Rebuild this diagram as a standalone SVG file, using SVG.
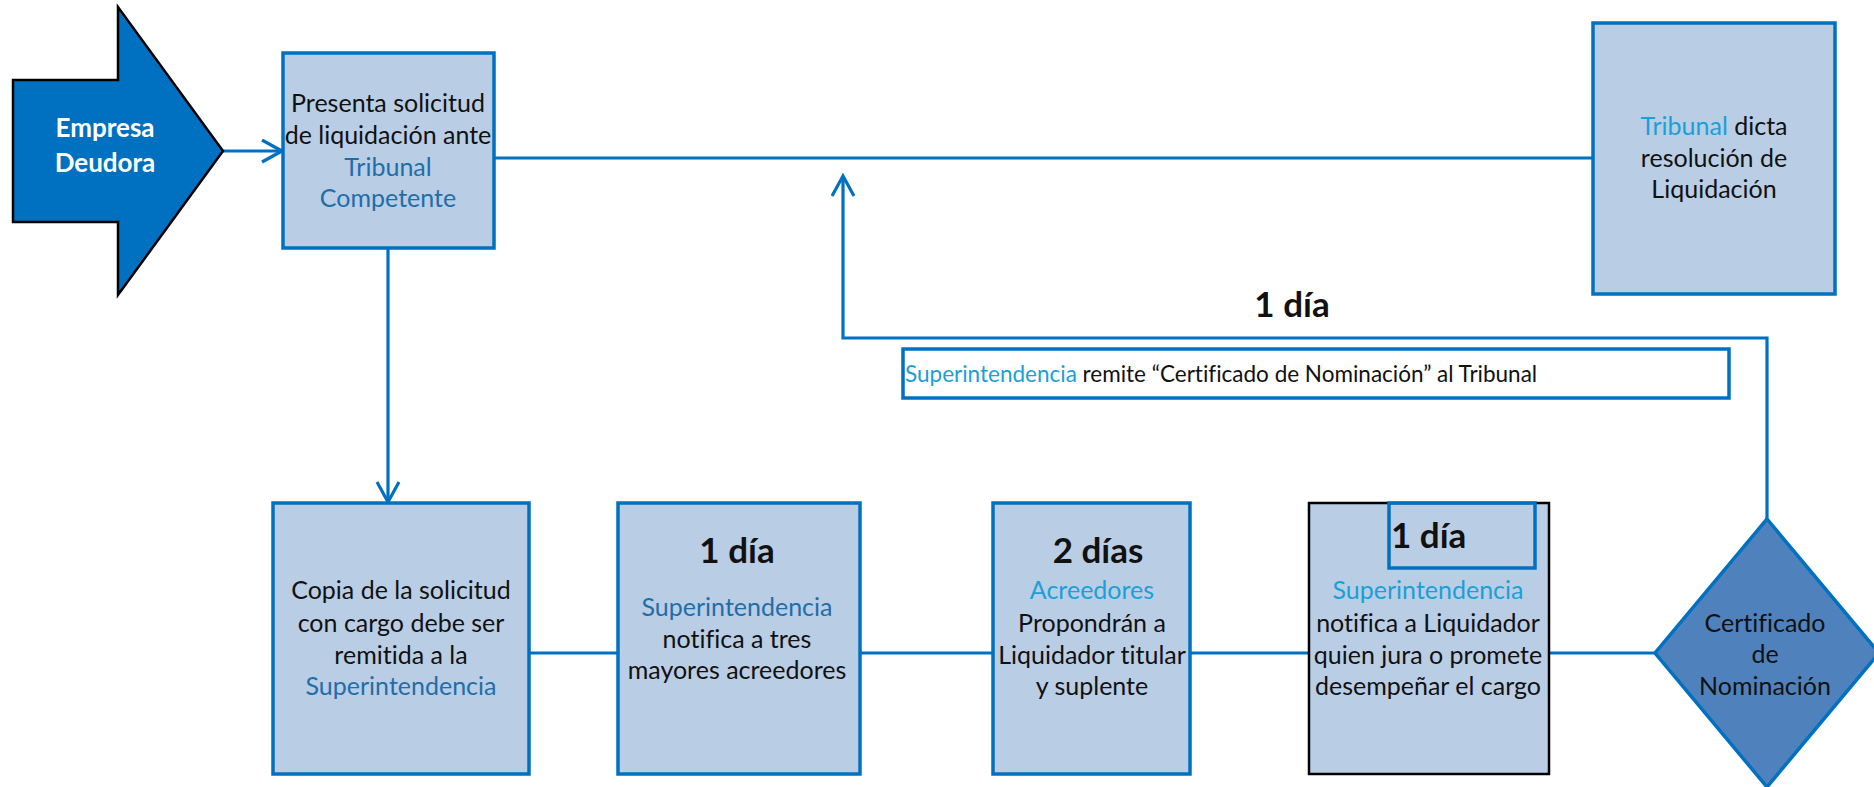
<svg xmlns="http://www.w3.org/2000/svg" width="1874" height="787" viewBox="0 0 1874 787">
<style>
.box{fill:#B9CDE5;stroke:#0070C0;stroke-width:3.5}
.t{font-family:Lato,"Open Sans","Liberation Sans",sans-serif;font-size:25px;fill:#111;text-anchor:middle;font-variant-ligatures:none}
.b{font-weight:bold;font-size:35px}
.dk{fill:#1F6EA8}
.lt{fill:#1AA0D8}
.ln{fill:none;stroke:#0070C0;stroke-width:3.2}
</style>
<defs>
<marker id="ah" markerUnits="userSpaceOnUse" markerWidth="24" markerHeight="26" refX="21" refY="12" orient="auto">
<path d="M1,1 L21,12 L1,23" fill="none" stroke="#0070C0" stroke-width="3.2"/>
</marker>
</defs>
<rect width="1874" height="787" fill="#fff"/>
<g id="connectors">
<path class="ln" d="M223,151 H282" marker-end="url(#ah)"/>
<path class="ln" d="M483,158 H1593"/>
<path class="ln" d="M388,248 V502" marker-end="url(#ah)"/>
<path class="ln" d="M529,653 H618 M860,653 H993 M1190,653 H1309 M1549,653 H1655"/>
<path class="ln" d="M1767,519 V338 H843 V176" marker-end="url(#ah)"/>
</g>
<g id="empresa">
<polygon points="13,80 118,80 118,7 223,151 118,295 118,222 13,222" fill="#0070C0" stroke="#000" stroke-width="2.5"/>
<text class="t" x="105" y="137" style="font-weight:bold;font-size:26px;fill:#fff">Empresa</text>
<text class="t" x="105" y="172" style="font-weight:bold;font-size:26px;fill:#fff">Deudora</text>
</g>
<g id="presenta">
<rect class="box" x="283" y="53" width="211" height="195"/>
<text class="t" x="388" y="112">Presenta solicitud</text>
<text class="t" x="388" y="144">de liquidación ante</text>
<text class="t dk" x="388" y="176">Tribunal</text>
<text class="t dk" x="388" y="207">Competente</text>
</g>
<g id="tribunal">
<rect class="box" x="1593" y="23" width="242" height="271"/>
<text class="t" x="1714" y="135"><tspan class="lt">Tribunal</tspan> dicta</text>
<text class="t" x="1714" y="167">resolución de</text>
<text class="t" x="1714" y="198">Liquidación</text>
</g>
<g id="remite">
<rect x="903" y="349" width="826" height="49" fill="none" stroke="#0070C0" stroke-width="3.5"/>
<text class="t" x="905" y="382" style="text-anchor:start;font-size:22.5px"><tspan class="lt">Superintendencia</tspan> remite “Certificado de Nominación” al Tribunal</text>
</g>
<g id="label-1dia-top">
<text class="t b" x="1292" y="317">1 día</text>
</g>
<g id="copia">
<rect class="box" x="273" y="503" width="256" height="271"/>
<text class="t" x="401" y="599">Copia de la solicitud</text>
<text class="t" x="401" y="632">con cargo debe ser</text>
<text class="t" x="401" y="664">remitida a la</text>
<text class="t dk" x="401" y="695">Superintendencia</text>
</g>
<g id="notifica">
<rect class="box" x="618" y="503" width="242" height="271"/>
<text class="t b" x="737" y="563">1 día</text>
<text class="t dk" x="737" y="616">Superintendencia</text>
<text class="t" x="737" y="648">notifica a tres</text>
<text class="t" x="737" y="679">mayores acreedores</text>
</g>
<g id="acreedores">
<rect class="box" x="993" y="503" width="197" height="271"/>
<text class="t b" x="1098" y="563">2 días</text>
<text class="t lt" x="1092" y="599">Acreedores</text>
<text class="t" x="1092" y="632">Propondrán a</text>
<text class="t" x="1092" y="664">Liquidador titular</text>
<text class="t" x="1092" y="695">y suplente</text>
</g>
<g id="liquidador">
<rect x="1309" y="503" width="240" height="271" fill="#B9CDE5" stroke="#000" stroke-width="2.5"/>
<rect x="1389" y="503" width="146" height="65" fill="none" stroke="#0070C0" stroke-width="3.5"/>
<text class="t b" x="1391" y="548" style="text-anchor:start">1 día</text>
<text class="t lt" x="1428" y="599">Superintendencia</text>
<text class="t" x="1428" y="632">notifica a Liquidador</text>
<text class="t" x="1428" y="664">quien jura o promete</text>
<text class="t" x="1428" y="695">desempeñar el cargo</text>
</g>
<g id="certificado">
<polygon points="1767,519 1879,653 1767,787 1655,653" fill="#4F81BD" stroke="#0070C0" stroke-width="3.5"/>
<text class="t" x="1765" y="632">Certificado</text>
<text class="t" x="1765" y="663">de</text>
<text class="t" x="1765" y="695">Nominación</text>
</g>
</svg>
